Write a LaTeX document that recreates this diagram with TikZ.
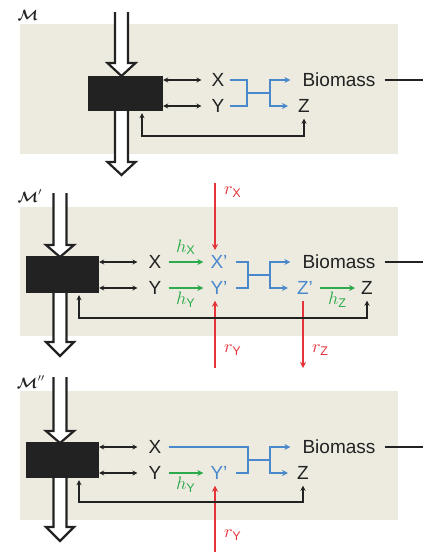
\documentclass[tikz,border=0pt]{standalone}
\usepackage{amsmath,bm}
\usepackage{fontspec}
\setsansfont{Liberation Sans}
\usetikzlibrary{arrows.meta}
\definecolor{bg}{HTML}{EDEBE0}
\definecolor{cblue}{HTML}{4A88CC}
\definecolor{cgreen}{HTML}{2DAA4B}
\definecolor{cred}{HTML}{E6333A}
\definecolor{ctext}{HTML}{222222}
\newcommand\bigdown[4]{% cx, top, headstart, tip
  \draw[bigarrow] (#1-6.5,#2) -- (#1-6.5,#3) -- (#1-14,#3) -- (#1,#4) -- (#1+14,#3) -- (#1+6.5,#3) -- (#1+6.5,#2);}
\newcommand\sublbl[2]{\scalebox{1.8}{$#1_{\textsf{#2}}$}}
\newcommand\mlabel[1]{\scalebox{1.5}{$\boldsymbol{\mathcal{M}}#1$}}
\tikzset{
  panel/.style={fill=bg, draw=none},
  bigarrow/.style={draw=ctext, line width=2.2pt, fill=white, line join=miter},
  blackbox/.style={fill=ctext, draw=none, inner sep=0pt},
  lbl/.style={font=\fontsize{19}{21}\sffamily, text=ctext, inner sep=0pt},
  blbl/.style={lbl, text=cblue},
  hlbl/.style={text=cgreen, inner sep=0pt},
  rlbl/.style={text=cred, inner sep=0pt},
  mlbl/.style={text=ctext, inner sep=0pt},
  dbl/.style={draw=ctext, line width=1.6pt, {Stealth[length=5pt,width=5pt]}-{Stealth[length=5pt,width=5pt]}},
  fb/.style={draw=ctext, line width=1.8pt, {Stealth[length=5pt,width=5pt]}-{Stealth[length=5pt,width=5pt]}},
  bline/.style={draw=cblue, line width=2.6pt},
  barr/.style={bline, -{Stealth[length=6pt,width=6pt]}},
  garr/.style={draw=cgreen, line width=2.5pt, -{Stealth[length=6pt,width=6pt]}},
  rarr/.style={draw=cred, line width=2.5pt, -{Stealth[length=6pt,width=6pt]}},
  outline/.style={draw=ctext, line width=1.8pt},
}
\begin{document}
\begin{tikzpicture}[x=1pt,y=-1pt]
\useasboundingbox (0,0) rectangle (423,552);
% ---------- panel M ----------
\fill[panel] (20,24) rectangle (398,154);
\node[mlbl] (m1) at (28,15) {\mlabel{}};
\bigdown{121.5}{12}{63}{76}
\bigdown{121.5}{111}{162}{175}
\node[blackbox, minimum width=75pt, minimum height=35pt] (box1) at (125.5,93.5) {};
\node[lbl] (X1) at (218,80) {X};
\node[lbl] (Y1) at (218,106) {Y};
\node[lbl] (Bio1) at (339,80) {Biomass};
\node[lbl] (Z1) at (304,106) {Z};
\draw[dbl] (box1.east |- X1) -- ([xshift=-10pt]X1.west);
\draw[dbl] (box1.east |- Y1) -- ([xshift=-10pt]Y1.west);
\draw[bline] ([xshift=5pt]X1.east) -| (247,93) |- ([xshift=5pt]Y1.east);
\draw[bline] (247,93) -- (270,93);
\draw[barr] (270,93) |- ([xshift=-12pt]Bio1.west);
\draw[barr] (270,93) |- ([xshift=-10pt]Z1.west);
\draw[outline] ([xshift=9pt]Bio1.east) -- (423,80);
\coordinate (f1) at (142,136);
\draw[fb] ([yshift=-2pt]box1.south -| f1) -- (f1) -| ([yshift=-6pt]Z1.south);
% ---------- panel M' ----------
\fill[panel] (20,207) rectangle (398,336);
\node[mlbl] (m2) at (30,196) {\mlabel{'}};
\bigdown{60}{193}{245}{257}
\bigdown{60}{293}{342}{356}
\node[blackbox, minimum width=73pt, minimum height=37pt] (box2) at (62.5,274.5) {};
\node[lbl] (X2) at (155,262) {X};
\node[lbl] (Y2) at (155,288) {Y};
\node[blbl] (Xp2) at (219,262) {X’};
\node[blbl] (Yp2) at (219,288) {Y’};
\node[lbl] (Bio2) at (339,262) {Biomass};
\node[blbl] (Zp2) at (305,288) {Z’};
\node[lbl] (Z2) at (367,288) {Z};
\draw[dbl] (box2.east |- X2) -- ([xshift=-11pt]X2.west);
\draw[dbl] (box2.east |- Y2) -- ([xshift=-11pt]Y2.west);
\draw[garr] ([xshift=7pt]X2.east) -- ([xshift=-7pt]Xp2.west) node[hlbl, midway, above=6pt] (hx2) {\sublbl{h}{X}};
\draw[garr] ([xshift=7pt]Y2.east) -- ([xshift=-7pt]Yp2.west) node[hlbl, midway, below=3pt] (hy2) {\sublbl{h}{Y}};
\draw[bline] ([xshift=8pt]Xp2.east) -| (248,275) |- ([xshift=8pt]Yp2.east);
\draw[bline] (248,275) -- (270,275);
\draw[barr] (270,275) |- ([xshift=-12pt]Bio2.west);
\draw[barr] (270,275) |- ([xshift=-9pt]Zp2.west);
\draw[garr] ([xshift=7pt]Zp2.east) -- ([xshift=-6pt]Z2.west) node[hlbl, midway, below=3pt] (hz2) {\sublbl{h}{Z}};
\draw[outline] ([xshift=9pt]Bio2.east) -- (423,262);
\coordinate (rx2) at (215,183);
\draw[rarr] (rx2) -- (rx2 |- 0,250) coordinate (rx2e);
\node[rlbl, anchor=west] (rxl2) at (224,192) {\sublbl{r}{X}};
\coordinate (ry2) at (215,368);
\draw[rarr] (ry2) -- ([yshift=-6pt]Yp2.south -| ry2);
\node[rlbl, anchor=west] (ryl2) at (224,350) {\sublbl{r}{Y}};
\coordinate (rz2) at (303,368);
\draw[rarr] ([yshift=-6pt]Zp2.south -| rz2) -- (rz2);
\node[rlbl, anchor=west] (rzl2) at (312,350) {\sublbl{r}{Z}};
\coordinate (f2) at (79,318);
\draw[fb] ([yshift=-2pt]box2.south -| f2) -- (f2) -| ([yshift=-6pt]Z2.south);
% ---------- panel M'' ----------
\fill[panel] (20,391) rectangle (398,520);
\node[mlbl] (m3) at (31,382) {\mlabel{''}};
\bigdown{60}{377}{431}{443}
\bigdown{60}{478}{527}{541}
\node[blackbox, minimum width=73pt, minimum height=36pt] (box3) at (62.5,460) {};
\node[lbl] (X3) at (155,447) {X};
\node[lbl] (Y3) at (155,473) {Y};
\node[blbl] (Yp3) at (219,473) {Y’};
\node[lbl] (Bio3) at (339,447) {Biomass};
\node[lbl] (Z3) at (303,473) {Z};
\draw[dbl] (box3.east |- X3) -- ([xshift=-11pt]X3.west);
\draw[dbl] (box3.east |- Y3) -- ([xshift=-11pt]Y3.west);
\draw[garr] ([xshift=7pt]Y3.east) -- ([xshift=-7pt]Yp3.west) node[hlbl, midway, below=3pt] (hy3) {\sublbl{h}{Y}};
\draw[bline] ([xshift=7pt]X3.east) -| (248,460) |- ([xshift=8pt]Yp3.east);
\draw[bline] (248,460) -- (270,460);
\draw[barr] (270,460) |- ([xshift=-12pt]Bio3.west);
\draw[barr] (270,460) |- ([xshift=-9pt]Z3.west);
\draw[outline] ([xshift=9pt]Bio3.east) -- (423,447);
\coordinate (ry3) at (215,552);
\draw[rarr] (ry3) -- ([yshift=-6pt]Yp3.south -| ry3);
\node[rlbl, anchor=west] (ryl3) at (224,535) {\sublbl{r}{Y}};
\coordinate (f3) at (79,502);
\draw[fb] ([yshift=-2pt]box3.south -| f3) -- (f3) -| ([yshift=-6pt]Z3.south);
\end{tikzpicture}
\end{document}
